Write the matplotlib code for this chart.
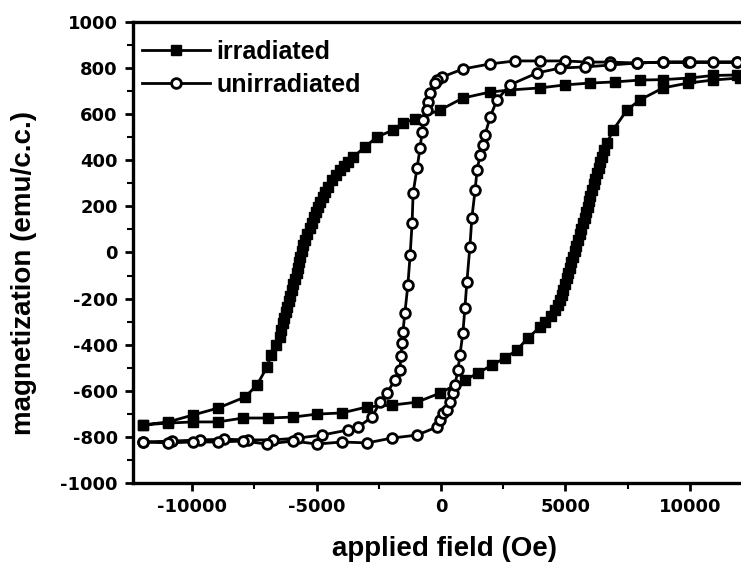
import matplotlib
matplotlib.use("Agg")
import matplotlib.pyplot as plt
import numpy as np
from matplotlib.ticker import MultipleLocator

# irradiated sample, field sweep down then up
irr_down_h = [11890, 10920, 10000, 8920, 8000, 6990, 5980, 4980, 3980, 2770, 1970, 880,
              -40, -1040, -1530, -1930, -2570, -3050,
              -3530, -3740, -3900, -4060, -4220, -4380, -4540, -4660, -4740, -4860, -4940,
              -5020, -5100, -5180, -5260, -5380, -5460, -5540, -5580, -5660, -5700, -5740,
              -5780, -5860, -5940, -5980, -6060, -6100, -6180, -6220, -6300, -6350, -6430,
              -6470, -6630, -6830, -6990,
              -7390, -7870, -8960, -9960, -10960, -11970]
irr_down_m = [770, 768, 757, 750, 748, 740, 735, 727, 714, 705, 696, 670,
              618, 579, 562, 531, 501, 458,
              414, 393, 375, 358, 336, 315, 284, 262, 241, 219, 197,
              176, 154, 128, 106, 80, 54, 33, 7, -20, -41, -67,
              -89, -115, -137, -163, -189, -210, -236, -258, -284, -306, -336,
              -367, -401, -445, -497,
              -575, -627, -675, -705, -735, -748]
irr_up_h = [-11970, -10960, -9960, -8960, -7950, -6950, -5940, -4980, -3980, -2970, -1970,
            -960, -40, 960, 1490, 2050, 2570, 3050, 3490,
            3980, 4180, 4420, 4580, 4700, 4780, 4860, 4900, 4980, 5060, 5100, 5180, 5220,
            5300, 5380, 5420, 5500, 5580, 5620, 5700, 5780, 5820, 5900, 5940, 5980, 6060,
            6140, 6180, 6260, 6340, 6390, 6470, 6550, 6670,
            6910, 7470, 7990, 8920, 9920, 10920, 12000]
irr_up_m = [-748, -740, -735, -735, -718, -718, -714, -701, -696, -670, -662,
            -649, -610, -553, -523, -488, -458, -423, -371,
            -323, -302, -275, -249, -228, -206, -184, -163, -137, -111, -89, -67, -41,
            -20, 7, 28, 54, 80, 102, 128, 150, 176, 197, 223, 245, 271,
            297, 319, 345, 367, 393, 414, 445, 475,
            531, 618, 662, 714, 735, 748, 757]

# unirradiated sample
unirr_down_h = [11890, 10920, 9920, 8920, 7870, 6790, 5900, 4980, 3980, 2970, 1970, 880,
                40, -160, -240, -440, -520, -560, -720, -760, -840, -960, -1120, -1160,
                -1240, -1330, -1450, -1530, -1570, -1610, -1650, -1850, -2170, -2450,
                -2770, -3330, -3730, -4780, -5740, -6750, -7750, -8700, -9680, -10800,
                -11970]
unirr_down_m = [826, 826, 826, 826, 822, 826, 826, 831, 831, 831, 818, 796,
                761, 748, 735, 692, 653, 618, 575, 523, 453, 367, 258, 128,
                -11, -141, -262, -345, -393, -450, -510, -553, -610, -649,
                -714, -757, -770, -792, -805, -813, -813, -810, -813, -818,
                -822]
unirr_up_h = [-11970, -10960, -9960, -8960, -7950, -6990, -5940, -4980, -3980, -2970,
              -1970, -960, -160, -40, 80, 240, 360, 480, 560, 680, 760, 880, 960, 1040,
              1160, 1240, 1370, 1450, 1570, 1690, 1770, 1970, 2250, 2770, 3860, 4780,
              5780, 6790, 7870, 8920, 10000, 11890]
unirr_up_m = [-822, -826, -822, -822, -818, -831, -818, -831, -822, -826,
              -805, -792, -757, -727, -696, -683, -649, -610, -575, -510, -445, -349, -241, -128,
              24, 150, 271, 358, 423, 466, 510, 587, 662, 727, 779, 800,
              805, 813, 822, 826, 826, 826]

plt.rcParams['font.family'] = ['Liberation Sans', 'DejaVu Sans']
plt.rcParams['font.weight'] = 'bold'
plt.rcParams['axes.unicode_minus'] = False

fig = plt.figure(figsize=(7.41, 5.65), dpi=100)
ax = fig.add_axes([0.1795, 0.1451, 0.8205, 0.816])

ax.plot(irr_down_h + irr_up_h, irr_down_m + irr_up_m, color='black', lw=2,
        marker='s', ms=6.5, mfc='black', mec='black', label='irradiated')
ax.plot(unirr_down_h + unirr_up_h, unirr_down_m + unirr_up_m, color='black', lw=2,
        marker='o', ms=7, mfc='white', mec='black', mew=2, label='unirradiated')

ax.set_xlim(-12370, 12050)
ax.set_ylim(-1000, 1000)
ax.xaxis.set_major_locator(MultipleLocator(5000))
ax.xaxis.set_minor_locator(MultipleLocator(2500))
ax.yaxis.set_major_locator(MultipleLocator(200))
ax.yaxis.set_minor_locator(MultipleLocator(100))
ax.tick_params(which='major', direction='out', length=6, width=2, pad=5)
ax.tick_params(which='minor', direction='out', length=4, width=1.5)
for lab in ax.get_xticklabels() + ax.get_yticklabels():
    lab.set_fontweight('bold')
    lab.set_family('DejaVu Sans')
    lab.set_fontsize(13)

for s in ['left', 'bottom', 'top']:
    ax.spines[s].set_linewidth(2.4)
ax.spines['right'].set_visible(False)

ax.set_xlabel('applied field (Oe)', fontsize=20, fontweight='bold', labelpad=9)
ax.xaxis.set_label_coords(0.513, -0.115)
ax.set_ylabel('magnetization (emu/c.c.)', fontsize=20, fontweight='bold')
ax.yaxis.set_label_coords(-0.158, 0.455)

leg = ax.legend(loc='upper left', bbox_to_anchor=(-0.016, 1.0), frameon=False, fontsize=18,
                handlelength=2.75, borderaxespad=0.0, borderpad=0.73, handletextpad=0.25,
                labelspacing=0.35)
for t in leg.get_texts():
    t.set_fontweight('bold')

fig.savefig('out.png', dpi=100)
